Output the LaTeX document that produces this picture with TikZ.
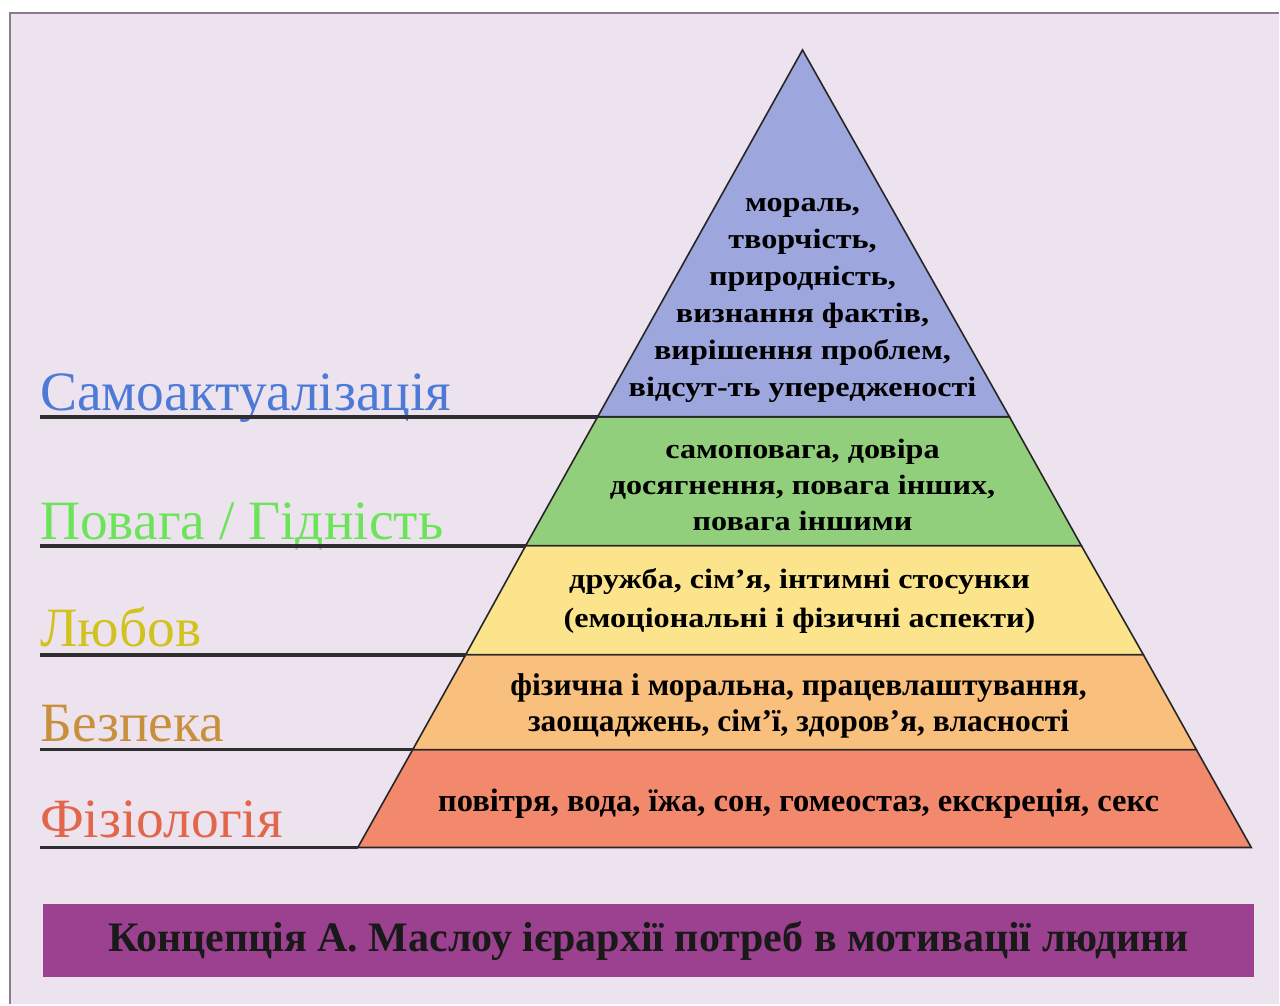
\documentclass[tikz,border=0pt]{standalone}
\usepackage{fontspec}
\setmainfont{Liberation Serif}
\newfontfamily\widefont[FakeStretch=1.15]{Liberation Serif}
\definecolor{backlilac}{HTML}{EDE3EF}
\definecolor{framegray}{HTML}{8C7A8E}
\definecolor{selfblue}{HTML}{9EA6DE}
\definecolor{esteemgreen}{HTML}{92CF7C}
\definecolor{loveyellow}{HTML}{FBE48C}
\definecolor{safeorange}{HTML}{F8C07C}
\definecolor{physred}{HTML}{F2886C}
\definecolor{bannerpurple}{HTML}{9B418F}
\definecolor{lblblue}{HTML}{4D7AD6}
\definecolor{lblgreen}{HTML}{6CE45A}
\definecolor{lblyellow}{HTML}{D2C21E}
\definecolor{lblbrown}{HTML}{C8903C}
\definecolor{lblred}{HTML}{E2664A}
\begin{document}
\begin{tikzpicture}[x=1pt,y=-1pt,
  level/.style={draw=black!85, line width=1.6pt, line join=miter},
  lbl/.style={anchor=base west, inner sep=0pt, font=\fontsize{55.5}{56}\selectfont},
  need/.style={align=center, inner sep=0pt, font=\widefont\bfseries\fontsize{28}{37}\selectfont},
  leader/.style={line width=3.8pt, draw=black!82}]
	\fill[white] (0,0) rectangle (1280,1005);
	\fill[backlilac] (10,13) rectangle (1280,1005);
	\draw[framegray, line width=1.5pt] (10,1005) -- (10,13) -- (1280,13);
	\useasboundingbox (0,0) rectangle (1280,1005);

	% corners of the pyramid
	\coordinate (apex) at (803,50);
	\coordinate (b1l) at (598,417);  \coordinate (b1r) at (1010,417);
	\coordinate (b2l) at (526,546);  \coordinate (b2r) at (1082,546);
	\coordinate (b3l) at (466,655);  \coordinate (b3r) at (1144,655);
	\coordinate (b4l) at (413,750);  \coordinate (b4r) at (1197,750);
	\coordinate (b5l) at (358,848);  \coordinate (b5r) at (1252,848);

	\filldraw[level, fill=physred] (b4l) -- (b4r) -- (b5r) -- (b5l) -- cycle;
	\filldraw[level, fill=safeorange] (b3l) -- (b3r) -- (b4r) -- (b4l) -- cycle;
	\filldraw[level, fill=loveyellow] (b2l) -- (b2r) -- (b3r) -- (b3l) -- cycle;
	\filldraw[level, fill=esteemgreen] (b1l) -- (b1r) -- (b2r) -- (b2l) -- cycle;
	\filldraw[level, fill=selfblue] (apex) -- (b1r) -- (b1l) -- cycle;

	% texts inside
	\node[need] (selftxt) at (803,301) {мораль,\\творчість,\\природність,\\визнання фактів,\\вирішення проблем,\\відсут-ть упередженості};
	\node[need, font=\widefont\bfseries\fontsize{28}{36}\selectfont] (esteemtxt) at (803,485) {самоповага, довіра\\досягнення, повага інших,\\повага іншими};
	\node[need, font=\widefont\bfseries\fontsize{28}{39}\selectfont] (lovetxt) at (800,601) {дружба, сім’я, інтимні стосунки\\(емоціональні і фізичні аспекти)};
	\node[need, font=\bfseries\fontsize{31.5}{36}\selectfont] (safetxt) at (799,706) {фізична і моральна, працевлаштування,\\заощаджень, сім’ї, здоров’я, власності};
	\node[need, font=\bfseries\fontsize{32.5}{36}\selectfont] (phystxt) at (799,804) {повітря, вода, їжа, сон, гомеостаз, екскреція, секс};

	% labels on the left
	\node[lbl, text=lblblue] (self) at (40,411) {Самоактуалізація};
	\node[lbl, text=lblgreen] (esteem) at (40,540) {Повага / Гідність};
	\node[lbl, text=lblyellow] (love) at (40,647) {Любов};
	\node[lbl, text=lblbrown] (safe) at (40,742) {Безпека};
	\node[lbl, text=lblred] (phys) at (40,838) {Фізіологія};

	\draw[leader] (self.base west |- b1l) -- (b1l);
	\draw[leader] (esteem.base west |- b2l) -- (b2l);
	\draw[leader] (love.base west |- b3l) -- (b3l);
	\draw[leader] (safe.base west |- b4l) -- (b4l);
	\draw[leader] (phys.base west |- b5l) -- (b5l);

	% banner
	\node[fill=bannerpurple, minimum width=1212pt, minimum height=73pt, inner sep=0pt,
	  font=\bfseries\fontsize{42}{42}\selectfont, text=black!90] (banner) at (649,941.5)
	  {Концепція А. Маслоу ієрархії потреб в мотивації людини};
\end{tikzpicture}
\end{document}
